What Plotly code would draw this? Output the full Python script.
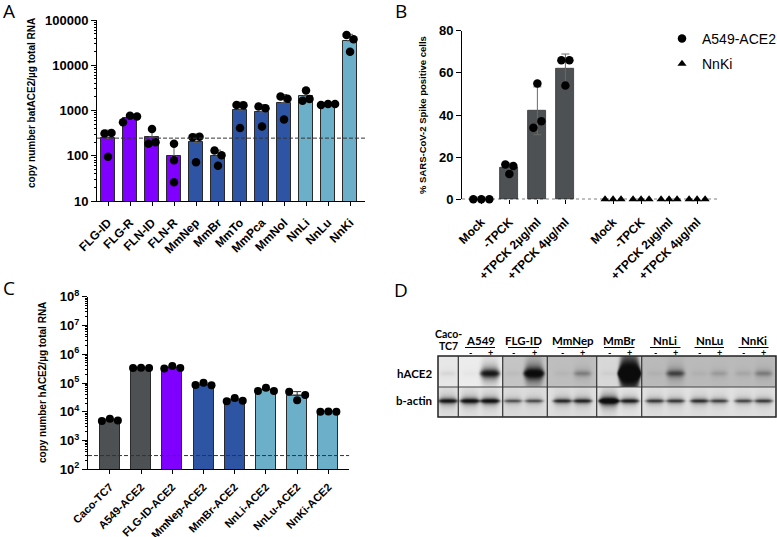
import numpy as np
import plotly.graph_objects as go

W, H = 777, 537
FONT = "Liberation Sans, Arial, sans-serif"
LETTER_FONT = "Open Sans, sans-serif"
BLOT_FONT = "Lato, sans-serif"

PURPLE = "#7F00FF"
DBLUE = "#2E55A3"
LBLUE = "#6BAFC9"
GREY = "#4D5154"

# ---------------- data: panel A (batACE2 copy numbers) ----------------
bat_lines = ["FLG-ID", "FLG-R", "FLN-ID", "FLN-R", "MmNep", "MmBr",
             "MmTo", "MmPca", "MmNol", "NnLi", "NnLu", "NnKi"]
bat_species = ["FL", "FL", "FL", "FL", "Mm", "Mm", "Mm", "Mm", "Mm", "Nn", "Nn", "Nn"]
bat_copies = [
    [310, 95, 320],
    [550, 767, 740],
    [185, 390, 200],
    [185, 80, 26],
    [255, 72, 262],
    [130, 60, 103],
    [1330, 410, 1300],
    [1230, 445, 1120],
    [2050, 630, 1810],
    [1640, 2780, 1790],
    [1330, 1400, 1390],
    [46600, 19900, 37500],
]
bat_cutoff = 245

# ---------------- data: panel B (% spike positive cells) ----------------
treatments = ["Mock", "-TPCK", "+TPCK 2µg/ml", "+TPCK 4µg/ml"]
a549_pct = [
    [0, 0, 0],
    [16.5, 12, 15.8],
    [34, 55, 37],
    [66, 54, 66],
]
nnki_pct = [
    [0, 0, 0],
    [0, 0, 0],
    [0, 0, 0],
    [0, 0, 0],
]

# ---------------- data: panel C (hACE2 copy numbers) ----------------
ace2_lines = ["Caco-TC7", "A549-ACE2", "FLG-ID-ACE2", "MmNep-ACE2",
              "MmBr-ACE2", "NnLi-ACE2", "NnLu-ACE2", "NnKi-ACE2"]
ace2_species = ["Hs", "Hs", "FL", "Mm", "Mm", "Nn", "Nn", "Nn"]
ace2_copies = [
    [4800, 5700, 5000],
    [330000, 340000, 335000],
    [320000, 390000, 330000],
    [85000, 103000, 83000],
    [23000, 30000, 24000],
    [53000, 69000, 53000],
    [50000, 25000, 38000],
    [10000, 10300, 10000],
]
ace2_cutoff = 300

# ---------------- data: panel D (western blot) ----------------
blot_groups = ["A549", "FLG-ID", "MmNep", "MmBr", "NnLi", "NnLu", "NnKi"]
lane_x = [448, 470, 490, 513, 534, 562.5, 582.5, 609, 629.5, 655, 675.5, 699.5, 719, 743.5, 763.5]
ace2_signal = [0.08, 0.03, 3.0, 0.05, 6.0, 0.05, 0.45, 0.05, 40.0, 0.06, 1.2, 0.06, 0.2, 0.12, 0.45]
actin_signal = [3.0, 3.5, 3.5, 1.1, 1.2, 2.0, 2.2, 8.0, 2.5, 1.6, 1.6, 1.8, 1.4, 1.3, 1.5]
segment_edges = [438, 458.3, 502.7, 547.3, 596.7, 641.7, 776]
ace2_bg = [232, 236, 197, 190, 216, 186]
actin_bg = [226, 228, 220, 222, 230, 224]

colour_of = {"FL": PURPLE, "Mm": DBLUE, "Nn": LBLUE, "Hs": GREY}


def px(x):
    return x / W


def py(y):
    return 1 - y / H


def swarm(vals, to_px, step, gap=8):
    # spread points that would overlap, keeping the data order inside a cluster
    p = np.array([to_px(v) for v in vals])
    order = np.argsort(p, kind="stable")
    offs = np.zeros(len(vals))
    groups, cur = [], [order[0]]
    for a, b in zip(order[:-1], order[1:]):
        if p[b] - p[a] < gap:
            cur.append(b)
        else:
            groups.append(cur)
            cur = [b]
    groups.append(cur)
    for g in groups:
        g = sorted(g)
        k = len(g)
        for j, idx in enumerate(g):
            offs[idx] = (j - (k - 1) / 2) * step
    return offs


def label(text, x, y, font, angle=0):
    return dict(text=text, x=px(x), y=py(y), xref="paper", yref="paper", xanchor="center",
                yanchor="middle", textangle=angle, showarrow=False, font=font)


fig = go.Figure()

# ======== panel A ========
a_mean = [np.mean(v) for v in bat_copies]
a_sd = [np.std(v, ddof=1) for v in bat_copies]
a_x = list(range(len(bat_lines)))
fig.add_trace(go.Bar(
    x=a_x, y=a_mean, width=0.64,
    marker=dict(color=[colour_of[s] for s in bat_species], line=dict(color="#2a2a2a", width=1)),
    error_y=dict(type="data", symmetric=False, array=a_sd, arrayminus=[0] * len(a_sd),
                 color="#5a5a5a", thickness=1, width=3),
    xaxis="x", yaxis="y", showlegend=False, hoverinfo="skip"))
px_dec_a = 45.4
step_a = 7 / 22
px_pts, py_pts = [], []
for i, vals in enumerate(bat_copies):
    offs = swarm(vals, lambda v: np.log10(v) * px_dec_a, step_a)
    px_pts += list(i + offs)
    py_pts += vals
fig.add_trace(go.Scatter(x=px_pts, y=py_pts, mode="markers", xaxis="x", yaxis="y",
                         marker=dict(color="black", size=8.5), showlegend=False, cliponaxis=False))
fig.add_trace(go.Scatter(x=[-0.5, 11.68], y=[bat_cutoff, bat_cutoff], mode="lines", xaxis="x", yaxis="y",
                         line=dict(color="#333", width=1, dash="4px,2px"), showlegend=False, hoverinfo="skip"))

# ======== panel B ========
b_pos = [0, 1, 2, 3]
b_pos2 = [p + 4.7 for p in b_pos]
b_mean = [np.mean(v) for v in a549_pct]
b_sd = [np.std(v, ddof=1) for v in a549_pct]
fig.add_trace(go.Bar(
    x=b_pos, y=b_mean, width=0.64,
    marker=dict(color=GREY, line=dict(color="#333", width=0.8)),
    error_y=dict(type="data", array=b_sd, color="#6a6a6a", thickness=1, width=4),
    xaxis="x2", yaxis="y2", showlegend=False, hoverinfo="skip"))
fig.add_trace(go.Bar(
    x=b_pos2, y=[np.mean(v) for v in nnki_pct], width=0.64,
    marker=dict(color=GREY), xaxis="x2", yaxis="y2", showlegend=False, hoverinfo="skip"))
fig.add_trace(go.Scatter(x=[-0.69, 8.41], y=[0, 0], mode="lines", xaxis="x2", yaxis="y2",
                         line=dict(color="black", width=1.3, dash="dot"), showlegend=False, hoverinfo="skip"))
step_b = 8 / 28
bx, by = [], []
for p, vals in zip(b_pos, a549_pct):
    offs = swarm(vals, lambda v: v * 2.108, step_b)
    bx += list(p + offs)
    by += vals
fig.add_trace(go.Scatter(x=bx, y=by, mode="markers", xaxis="x2", yaxis="y2", name="A549-ACE2",
                         legendgroup="a", marker=dict(color="black", size=8.5, symbol="circle"), cliponaxis=False))
tx, ty = [], []
for p, vals in zip(b_pos2, nnki_pct):
    offs = swarm(vals, lambda v: v * 2.108, step_b)
    tx += list(p + offs)
    ty += vals
fig.add_trace(go.Scatter(x=tx, y=ty, mode="markers", xaxis="x2", yaxis="y2", name="NnKi",
                         legendgroup="b", marker=dict(color="black", size=8, symbol="triangle-up"),
                         cliponaxis=False))

# ======== panel C ========
c_mean = [np.mean(v) for v in ace2_copies]
c_sd = [np.std(v, ddof=1) for v in ace2_copies]
c_x = list(range(len(ace2_lines)))
fig.add_trace(go.Bar(
    x=c_x, y=c_mean, width=0.64,
    marker=dict(color=[colour_of[s] for s in ace2_species], line=dict(color="#2a2a2a", width=1)),
    error_y=dict(type="data", symmetric=False, array=c_sd, arrayminus=[0] * len(c_sd),
                 color="#2a2a2a", thickness=1, width=4),
    xaxis="x3", yaxis="y3", showlegend=False, hoverinfo="skip"))
step_c = 8 / 31.2
cx, cy = [], []
for i, vals in enumerate(ace2_copies):
    offs = swarm(vals, lambda v: np.log10(v) * 28.77, step_c)
    cx += list(i + offs)
    cy += vals
fig.add_trace(go.Scatter(x=cx, y=cy, mode="markers", xaxis="x3", yaxis="y3",
                         marker=dict(color="black", size=8), showlegend=False, cliponaxis=False))
fig.add_trace(go.Scatter(x=[-0.7, 7.67], y=[ace2_cutoff, ace2_cutoff], mode="lines", xaxis="x3", yaxis="y3",
                         line=dict(color="#333", width=1, dash="4px,2px"), showlegend=False, hoverinfo="skip"))

# ======== panel D: blot image ========
bw = int(segment_edges[-1] - segment_edges[0])
bh = 61
split = 31
xs = np.arange(bw) + 0.5 + segment_edges[0]
ys = np.arange(bh) + 0.5
img = np.zeros((bh, bw))
for k in range(len(segment_edges) - 1):
    m = (xs >= segment_edges[k]) & (xs < segment_edges[k + 1])
    img[:split, m] = ace2_bg[k]
    img[split:, m] = actin_bg[k]
top = ys < split
for lx, s_ace, s_act in zip(lane_x, ace2_signal, actin_signal):
    fx = np.exp(-((xs - lx) / 8.5) ** 4)
    fy = 1 / (1 + ((ys - 17.5) / 2.6) ** 2) * top
    dark = 1 - np.exp(-s_ace * np.outer(fy, fx))
    img = img * (1 - 0.95 * dark)
    fy2 = 1 / (1 + ((ys - 45) / 1.4) ** 2) * (~top)
    dark2 = 1 - np.exp(-s_act * np.outer(fy2, fx))
    img = img * (1 - 0.95 * dark2)

fig.add_trace(go.Heatmap(z=img, x=xs, y=ys, xaxis="x4", yaxis="y4", zmin=0, zmax=255,
                         colorscale=[[0, "rgb(0,0,0)"], [1, "rgb(255,255,255)"]],
                         showscale=False, hoverinfo="skip"))

tick_font = dict(family=FONT, size=13, color="black", weight="bold")
xlab_font = dict(family=FONT, size=12, color="black", weight="bold")
common_x = dict(showgrid=False, zeroline=False, ticks="outside", ticklen=4, tickcolor="black",
                tickangle=-45, automargin=False)
common_y = dict(showgrid=False, zeroline=False, ticks="outside", ticklen=5, tickcolor="black",
                showline=True, linecolor="black", linewidth=1, tickfont=tick_font, automargin=False)

fig.update_layout(
    template="none",
    width=W, height=H, margin=dict(l=0, r=0, t=0, b=0, autoexpand=False),
    paper_bgcolor="white", plot_bgcolor="white",
    xaxis=dict(domain=[px(97), px(365)], range=[-0.5, 11.68], tickvals=a_x, ticktext=bat_lines,
               showline=True, linecolor="black", linewidth=1, anchor="y", ticklabelstandoff=5,
               tickfont=xlab_font, **common_x),
    yaxis=dict(domain=[py(201), py(20)], type="log", range=[1, 5], anchor="x",
               tickvals=[10, 100, 1000, 10000, 100000],
               ticktext=["10", "100", "1000", "10000", "100000"],
               minor=dict(ticks="outside", ticklen=2.5, tickcolor="black", dtick="D1"),
               **common_y),
    xaxis2=dict(domain=[px(462), px(717)], range=[-0.69, 8.41], tickvals=b_pos + b_pos2,
                ticktext=treatments + treatments, showline=False, anchor="y2", ticklabelstandoff=6,
                tickfont=xlab_font, **common_x),
    yaxis2=dict(domain=[py(199.3), py(30.7)], range=[0, 80], dtick=20, anchor="x2", **common_y),
    xaxis3=dict(domain=[px(88), px(349.3)], range=[-0.7, 7.67], tickvals=c_x, ticktext=ace2_lines,
                showline=True, linecolor="black", linewidth=1, anchor="y3", ticklabelstandoff=2,
                tickfont=dict(family=FONT, size=11, color="black", weight="bold"), **common_x),
    yaxis3=dict(domain=[py(469.3), py(296.7)], type="log", range=[2, 8], anchor="x3",
                tickvals=[10 ** k for k in range(2, 9)],
                ticktext=["10<sup>%d</sup>" % k for k in range(2, 9)],
                minor=dict(ticks="outside", ticklen=2.5, tickcolor="black", dtick="D1"),
                **common_y),
    xaxis4=dict(domain=[px(segment_edges[0]), px(segment_edges[-1])],
                range=[segment_edges[0], segment_edges[-1]], visible=False, anchor="y4"),
    yaxis4=dict(domain=[py(356 + bh), py(356)], range=[bh, 0], visible=False, anchor="x4"),
    legend=dict(x=px(662), y=py(23), xanchor="left", yanchor="top", bgcolor="rgba(0,0,0,0)",
                font=dict(family=FONT, size=14, color="black"), tracegroupgap=4),
    bargap=0, showlegend=True,
)

ann = []
# panel letters
for letter, x, y in [("A", 9, 11), ("B", 401, 11), ("C", 9, 288), ("D", 401, 290)]:
    ann.append(label(letter, x, y, dict(family=LETTER_FONT, size=19, color="black")))
# axis titles
for txt, x, y, sz in [("copy number batACE2/µg total RNA", 32, 103, 10),
                      ("% SARS-CoV-2 Spike positive cells", 422, 115, 9.5),
                      ("copy number hACE2/µg total RNA", 42, 383, 10)]:
    ann.append(label(txt, x, y, dict(family=FONT, size=sz, color="black", weight="bold"), -90))

# blot labels
blot_txt = dict(family=BLOT_FONT, size=11.5, color="black", weight="bold")
small_txt = dict(family=BLOT_FONT, size=10.5, color="black", weight="bold")
ann.append(label("Caco-", 448, 334, small_txt))
ann.append(label("TC7", 448, 346, small_txt))
ann.append(label("hACE2", 414, 373, blot_txt))
ann.append(label("b-actin", 414, 400, blot_txt))
shapes = []
for g, name in enumerate(blot_groups):
    xm, xp = lane_x[1 + 2 * g], lane_x[2 + 2 * g]
    ann.append(label(name, (xm + xp) / 2, 340.5, blot_txt))
    for sign, xx in [("-", xm), ("+", xp)]:
        ann.append(label(sign, xx, 352, dict(family=BLOT_FONT, size=9, color="black", weight="bold")))
    shapes.append(dict(type="line", xref="paper", yref="paper", x0=px(xm - 5), x1=px(xp + 5),
                       y0=py(347.5), y1=py(347.5), line=dict(color="black", width=1)))

# blot frame and dividers
shapes.append(dict(type="rect", xref="paper", yref="paper", x0=px(438), x1=px(776), y0=py(417), y1=py(356),
                   line=dict(color="#222", width=1.5)))
shapes.append(dict(type="line", xref="paper", yref="paper", x0=px(438), x1=px(776), y0=py(387), y1=py(387),
                   line=dict(color="#444", width=1.2)))
for e in segment_edges[1:-1]:
    shapes.append(dict(type="line", xref="paper", yref="paper", x0=px(e), x1=px(e), y0=py(417), y1=py(356),
                       line=dict(color="#333", width=1.2)))

fig.update_layout(annotations=ann, shapes=shapes)
fig.write_html("out.html", config={"displayModeBar": False},
               post_script="document.body.style.margin = '0';")
